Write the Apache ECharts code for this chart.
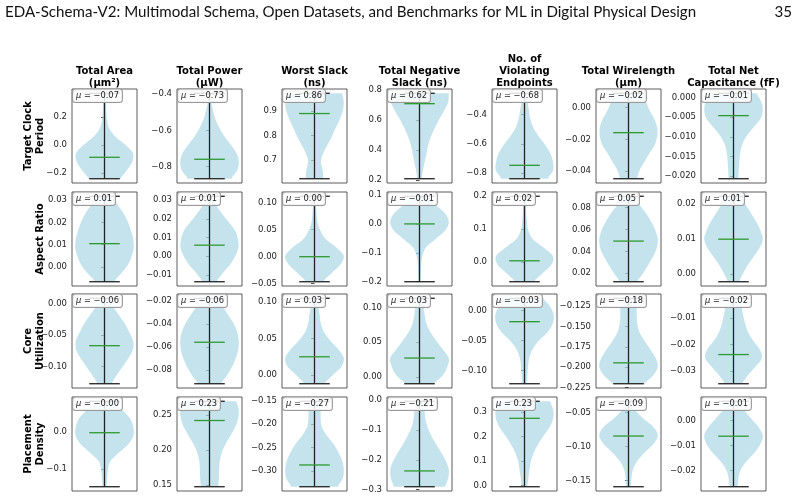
<!DOCTYPE html>
<html><head><meta charset="utf-8">
<script src="https://cdn.jsdelivr.net/npm/echarts@6/dist/echarts.min.js"></script>
<style>html,body{margin:0;padding:0;background:#fff}#c{width:800px;height:498px}</style>
</head><body><div id="c"></div>
<script>
// ---------------- DATA ----------------
const headerText = 'EDA-Schema-V2: Multimodal Schema, Open Datasets, and Benchmarks for ML in Digital Physical Design';
const pageNumber = '35';
const columnTitles = ['Total Area\n(\u03bcm\u00b2)', 'Total Power\n(\u03bcW)', 'Worst Slack\n(ns)', 'Total Negative\nSlack (ns)', 'No. of\nViolating\nEndpoints', 'Total Wirelength\n(\u03bcm)', 'Total Net\nCapacitance (fF)'];
const rowTitles = ['Target Clock\nPeriod', 'Aspect Ratio', 'Core\nUtilization', 'Placement\nDensity'];

const dataMin = [
  [-0.239, -0.866, 0.623, 0.209, -0.837, -0.0449, -0.0207],
  [-0.0067, -0.0136, -0.0463, -0.200, -0.0606, 0.0123, -0.0022],
  [-0.127, -0.092, -0.0117, -0.010, -0.1217, -0.2202, -0.0349],
  [-0.147, 0.1475, -0.334, -0.290, -0.0057, -0.159, -0.0264]
];
const dataMax = [
  [0.371, -0.396, 0.973, 0.776, -0.257, 0.0091, 0.0011],
  [0.0317, 0.032, 0.1117, 0.0956, 0.199, 0.0903, 0.0221],
  [0.008, -0.0176, 0.105, 0.1134, 0.0207, -0.1155, -0.0024],
  [0.083, 0.2692, -0.1506, -0.004, 0.3436, -0.0334, 0.0076]
];
const medians = [
  [-0.086, -0.759, 0.890, 0.707, -0.746, -0.0158, -0.0046],
  [0.0104, 0.0059, 0.0, 0.0, 0.003, 0.0494, 0.0099],
  [-0.0669, -0.0559, 0.0251, 0.0271, -0.0183, -0.1946, -0.0238],
  [-0.0016, 0.2418, -0.2873, -0.2371, 0.274, -0.0845, -0.0063]
];
const means = [
  [-0.07, -0.73, 0.86, 0.62, -0.68, -0.02, -0.01],
  [0.01, 0.01, 0.00, -0.01, 0.02, 0.05, 0.01],
  [-0.06, -0.06, 0.03, 0.03, -0.03, -0.18, -0.02],
  [-0.002, 0.23, -0.27, -0.21, 0.23, -0.09, -0.01]
];
const yTicks = [
  [[-0.2, 0, 0.2], [-0.8, -0.6, -0.4], [0.7, 0.8, 0.9], [0.2, 0.4, 0.6, 0.8], [-0.8, -0.6, -0.4], [-0.04, -0.02, 0], [-0.02, -0.015, -0.01, -0.005, 0]],
  [[0, 0.01, 0.02, 0.03], [-0.01, 0, 0.01, 0.02, 0.03], [-0.05, 0, 0.05, 0.1], [-0.2, -0.1, 0, 0.1], [0, 0.1, 0.2], [0.02, 0.04, 0.06, 0.08], [0, 0.01, 0.02]],
  [[-0.1, -0.05, 0], [-0.08, -0.06, -0.04, -0.02], [0, 0.05, 0.1], [0, 0.05, 0.1], [-0.1, -0.05, 0], [-0.225, -0.2, -0.175, -0.15, -0.125], [-0.03, -0.02, -0.01]],
  [[-0.1, 0], [0.15, 0.2, 0.25], [-0.3, -0.25, -0.2, -0.15], [-0.3, -0.2, -0.1, 0], [0, 0.1, 0.2, 0.3], [-0.15, -0.1, -0.05], [-0.02, -0.01, 0]]
];
const tickDecimals = [
  [1, 1, 1, 1, 1, 2, 3],
  [2, 2, 2, 1, 1, 2, 2],
  [2, 2, 2, 2, 2, 3, 2],
  [1, 2, 2, 1, 1, 2, 2]
];
// relative violin half-widths, read bottom (min) to top (max) at 11 evenly spaced levels
const widthProfiles = [
  [
    [0.55, 0.77, 0.95, 0.97, 0.7, 0.35, 0.15, 0.08, 0.06, 0.05, 0.04],
    [0.75, 0.95, 1.0, 0.92, 0.72, 0.5, 0.33, 0.2, 0.12, 0.06, 0.03],
    [0.3, 0.28, 0.22, 0.3, 0.45, 0.6, 0.73, 0.87, 0.97, 1.0, 0.95],
    [0.08, 0.12, 0.18, 0.24, 0.3, 0.4, 0.53, 0.68, 0.85, 0.98, 1.0],
    [0.8, 0.98, 0.97, 0.88, 0.7, 0.48, 0.3, 0.2, 0.15, 0.1, 0.06],
    [0.3, 0.38, 0.55, 0.72, 0.9, 0.98, 0.98, 0.88, 0.72, 0.6, 0.5],
    [0.17, 0.18, 0.2, 0.23, 0.3, 0.45, 0.68, 0.92, 1.0, 0.95, 0.8]
  ],
  [
    [0.33, 0.58, 0.8, 0.93, 1.0, 0.98, 0.9, 0.8, 0.65, 0.45, 0.25],
    [0.25, 0.45, 0.7, 0.88, 0.99, 0.97, 0.87, 0.65, 0.42, 0.22, 0.1],
    [0.3, 0.58, 0.88, 1.0, 0.75, 0.38, 0.2, 0.1, 0.07, 0.05, 0.04],
    [0.04, 0.05, 0.06, 0.1, 0.22, 0.55, 0.88, 1.0, 0.87, 0.55, 0.25],
    [0.33, 0.62, 0.92, 0.97, 0.65, 0.28, 0.13, 0.08, 0.06, 0.05, 0.04],
    [0.3, 0.5, 0.68, 0.85, 0.97, 1.0, 0.92, 0.78, 0.6, 0.38, 0.18],
    [0.2, 0.33, 0.5, 0.7, 0.9, 1.0, 0.92, 0.78, 0.6, 0.42, 0.25]
  ],
  [
    [0.25, 0.42, 0.62, 0.82, 0.97, 0.98, 0.85, 0.7, 0.5, 0.3, 0.15],
    [0.4, 0.6, 0.77, 0.9, 0.98, 1.0, 0.95, 0.83, 0.65, 0.45, 0.25],
    [0.35, 0.62, 0.92, 1.0, 0.82, 0.55, 0.33, 0.22, 0.18, 0.13, 0.08],
    [0.5, 0.8, 0.95, 1.0, 0.8, 0.58, 0.38, 0.24, 0.18, 0.14, 0.1],
    [0.08, 0.1, 0.12, 0.16, 0.27, 0.48, 0.78, 0.96, 1.0, 0.88, 0.65],
    [0.55, 0.85, 1.0, 0.93, 0.75, 0.55, 0.38, 0.3, 0.28, 0.28, 0.25],
    [0.3, 0.5, 0.75, 0.97, 0.9, 0.68, 0.5, 0.4, 0.33, 0.28, 0.22]
  ],
  [
    [0.07, 0.09, 0.12, 0.2, 0.5, 0.82, 0.99, 0.98, 0.87, 0.6, 0.3],
    [0.3, 0.32, 0.33, 0.35, 0.42, 0.55, 0.72, 0.88, 0.98, 1.0, 0.92],
    [0.8, 0.97, 1.0, 0.95, 0.82, 0.65, 0.42, 0.25, 0.21, 0.21, 0.2],
    [0.88, 0.98, 1.0, 0.9, 0.74, 0.56, 0.4, 0.27, 0.2, 0.17, 0.15],
    [0.1, 0.13, 0.17, 0.22, 0.32, 0.47, 0.66, 0.86, 0.98, 0.98, 0.88],
    [0.08, 0.1, 0.15, 0.3, 0.55, 0.85, 1.0, 0.85, 0.5, 0.22, 0.1],
    [0.14, 0.17, 0.25, 0.45, 0.72, 0.92, 1.0, 0.85, 0.6, 0.35, 0.15]
  ]
];

// ---------------- LAYOUT / STYLE ----------------
const COL_LEFT = [72, 177, 282, 387, 492, 596, 701], COL_W = 65;
const ROW_TOP = [89, 192, 294, 397], ROW_H = 94;
const HALF = 0.9, CAP = 0.47;
const FONT = '"DejaVu Sans", Verdana, sans-serif';
const BODY = 'rgba(173,216,230,0.72)';
const DARK = '#222';
const GREEN = '#2e9a2e';

const fmt = (v, d) => v.toFixed(d).replace('-', '\u2212');

function renderViolin(params, api) {
  const r = api.value(0), c = api.value(1);
  const lo = dataMin[r][c], hi = dataMax[r][c], w = widthProfiles[r][c];
  const n = w.length - 1, STEPS = 8;
  const right = [], left = [];
  for (let s = 0; s <= n * STEPS; s++) {
    const u = s / STEPS;
    const i = Math.min(Math.floor(u), n - 1);
    const t = u - i;
    const p0 = w[Math.max(i - 1, 0)], p1 = w[i], p2 = w[i + 1], p3 = w[Math.min(i + 2, n)];
    let h = 0.5 * (2 * p1 + (-p0 + p2) * t + (2 * p0 - 5 * p1 + 4 * p2 - p3) * t * t + (-p0 + 3 * p1 - 3 * p2 + p3) * t * t * t);
    h = Math.max(h, 0.02) * HALF;
    const y = lo + (hi - lo) * u / n;
    right.push(api.coord([h, y]));
    left.push(api.coord([-h, y]));
  }
  const poly = right.concat(left.reverse());
  const line = (x1, y1, x2, y2, color, width) => {
    const a = api.coord([x1, y1]), b = api.coord([x2, y2]);
    return { type: 'line', shape: { x1: a[0], y1: a[1], x2: b[0], y2: b[1] }, style: { stroke: color, lineWidth: width } };
  };
  const med = medians[r][c];
  return {
    type: 'group', children: [
      { type: 'polygon', shape: { points: poly }, style: { fill: BODY, stroke: null } },
      line(0, lo, 0, hi, DARK, 1.3),
      line(-CAP, lo, CAP, lo, DARK, 1.3),
      line(-CAP, hi, CAP, hi, DARK, 1.3),
      line(-CAP, med, CAP, med, GREEN, 1.3)
    ]
  };
}

const grids = [], xAxes = [], yAxes = [], series = [], graphics = [];
for (let r = 0; r < 4; r++) {
  for (let c = 0; c < 7; c++) {
    const k = r * 7 + c;
    const lo = dataMin[r][c], hi = dataMax[r][c], pad = 0.05 * (hi - lo);
    grids.push({ left: COL_LEFT[c], top: ROW_TOP[r], width: COL_W, height: ROW_H, show: true, borderColor: '#333', borderWidth: 0.8, backgroundColor: 'transparent' });
    xAxes.push({ gridIndex: k, type: 'value', min: -1, max: 1, show: false });
    const dec = tickDecimals[r][c];
    yAxes.push({
      gridIndex: k, type: 'value', min: lo - pad, max: hi + pad,
      axisLine: { show: false }, splitLine: { show: false },
      axisTick: { show: true, length: 3.5, lineStyle: { color: DARK, width: 0.8 }, customValues: yTicks[r][c] },
      axisLabel: { customValues: yTicks[r][c], formatter: v => fmt(v, dec), fontSize: 8.5, color: DARK, fontFamily: FONT, margin: 5 }
    });
    series.push({ type: 'custom', xAxisIndex: k, yAxisIndex: k, data: [[r, c]], renderItem: renderViolin, silent: true, clip: false });
    graphics.push({
      type: 'text', x: COL_LEFT[c] + 1, y: ROW_TOP[r] + 0.5, z: 100,
      style: {
        text: '{i|\u03bc} = ' + fmt(means[r][c], 2),
        fontSize: 8.3, fontFamily: FONT, fill: DARK,
        align: 'left', verticalAlign: 'top',
        backgroundColor: 'rgba(255,255,255,0.85)', borderColor: '#999', borderWidth: 1, borderRadius: 2.5,
        padding: [2.5, 3, 2, 3],
        rich: { i: { fontStyle: 'italic', fontSize: 8.3, fontFamily: FONT, fill: DARK } }
      }
    });
  }
}
for (let c = 0; c < 7; c++) {
  graphics.push({ type: 'text', x: COL_LEFT[c] + COL_W / 2, y: 89, z: 100,
    style: { text: columnTitles[c], fontSize: 10, fontWeight: 'bold', fontFamily: FONT, fill: '#000', align: 'center', verticalAlign: 'bottom', lineHeight: 11.7 } });
}
for (let r = 0; r < 4; r++) {
  graphics.push({ type: 'text', x: 46, y: ROW_TOP[r] + ROW_H / 2, rotation: Math.PI / 2, z: 100,
    style: { text: rowTitles[r], fontSize: 10, fontWeight: 'bold', fontFamily: FONT, fill: '#000', align: 'center', verticalAlign: 'bottom', lineHeight: 12 } });
}
graphics.push({ type: 'text', x: 5, y: 12.5, z: 100, style: { text: headerText, fontSize: 15.1, fontFamily: 'Lato, "Noto Sans", sans-serif', fill: '#111', align: 'left', verticalAlign: 'middle' } });
graphics.push({ type: 'text', x: 792, y: 12.5, z: 100, style: { text: pageNumber, fontSize: 15.1, fontFamily: 'Lato, "Noto Sans", sans-serif', fill: '#111', align: 'right', verticalAlign: 'middle' } });

const chart = echarts.init(document.getElementById('c'), null, { renderer: 'canvas' });
chart.setOption({
  animation: false,
  backgroundColor: '#fff',
  grid: grids, xAxis: xAxes, yAxis: yAxes, series: series, graphic: graphics
});
</script></body></html>
